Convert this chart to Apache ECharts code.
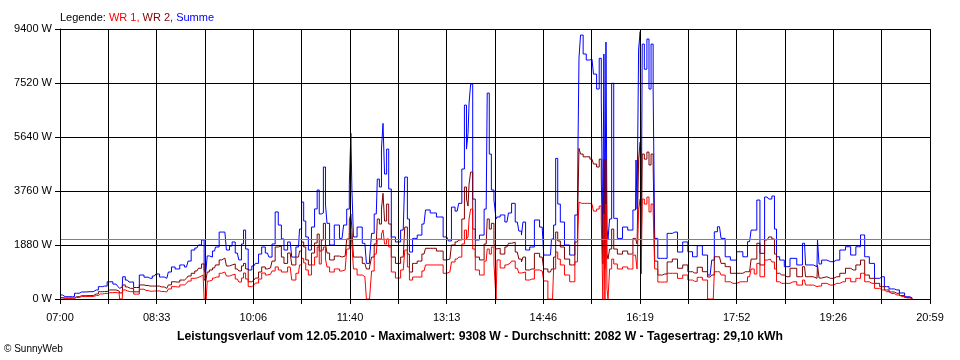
<!DOCTYPE html>
<html><head><meta charset="utf-8">
<script src="https://cdn.jsdelivr.net/npm/echarts@6/dist/echarts.min.js"></script>
<style>html,body{margin:0;padding:0;background:#fff}#c{width:960px;height:360px}</style>
</head><body><div id="c"></div>
<script>
// minutes since 07:00
const minutes = [
0,5,12,16,21,29,35,39,43,48,
54,57,58,60,61,65,68,74,79,83,
87,91,94,98,103,106,109,113,118,122,
125,128,132,135,138,140,141,143,145,149,
151,156,159,162,165,167,171,174,176,178,
180,183,187,190,193,196,200,203,206,209,
212,215,217,222,225,230,232,234,236,238,
241,244,247,249,251,253,255,257,258,262,
267,272,275,278,280,281,282,284,289,294,
297,300,301,305,307,309,311,312,314,316,
318,321,326,331,334,336,338,342,347,351,
354,360,366,373,376,379,383,386,389,391,
393,394,395,397,399,402,407,411,413,415,
417,420,421,422,427,431,434,437,441,444,
446,447,451,455,460,465,468,473,475,477,
479,481,484,489,494,499,500,501,503,506,
509,513,516,519,521,523,524,525,526,527,
528,529,531,533,535,540,545,550,555,556,
557,559,560,561,562,565,567,569,571,573,
574,579,583,588,593,598,603,608,612,617,
622,627,630,632,636,639,644,649,656,661,
665,668,671,673,677,682,685,688,690,692,
696,701,707,714,718,720,723,730,731,733,
736,743,749,755,760,765,770,774,778,783,
788,793,797,802,807,812,817,822];
const summe = [
140,80,80,200,245,255,315,430,450,600,
520,450,370,420,775,660,590,400,835,760,
720,800,870,765,720,940,1115,1045,1185,1115,
1320,1705,1775,1880,2055,1000,900,1500,1460,1670,
1810,2330,2330,1705,1845,1985,1600,1360,1915,2400,
1740,1010,1150,1240,1565,1810,1600,1460,1915,3030,
2575,2090,1705,1985,1460,1810,2435,3375,2715,2160,
1705,2505,3135,3795,2960,2995,4595,3305,2635,1880,
2575,2110,2575,3130,3970,5770,3830,2160,2505,1940,
1240,1390,2285,2960,4175,3900,5220,6115,4350,5220,
3830,2160,1985,2400,4245,2785,1635,2110,2225,2610,
3100,2995,2855,2160,2020,3200,3060,3330,4525,6750,
5220,5770,6820,7480,3480,2055,2225,3130,7170,5045,
3795,3445,2785,2855,2925,2680,2995,3330,2680,2365,
2225,2680,1705,1810,2750,2505,1530,1530,2090,2575,
4895,3305,2680,1880,1530,2925,5220,8390,9190,8530,
8320,8350,7830,7310,8380,6960,2090,8530,1415,8945,
2435,2090,2785,7510,2810,2110,2505,2400,3100,4840,
3130,8700,9308,2090,8875,8000,9050,7310,8875,7310,
2110,1415,1415,2285,2330,1635,1985,1645,1470,1855,
1530,835,1355,2340,2515,2110,1470,1355,1645,1470,
1995,2400,2400,3445,1590,3550,3480,3585,2435,1470,
1355,1125,1415,1185,1940,1185,1185,1125,2055,1220,
1355,1300,1355,1705,1820,1530,1820,2230,1470,1240,
720,775,430,350,315,210,80,35];
const wr1 = [
35,20,20,50,85,85,120,175,190,220,
225,210,0,0,315,280,255,170,340,295,
270,280,280,260,245,350,430,420,490,545,
625,720,730,775,835,0,0,625,660,730,
765,895,940,800,835,860,695,590,730,905,
695,430,487,557,695,905,835,860,975,1115,
1010,940,940,1115,660,895,1185,1415,1255,1010,
835,1185,1460,1810,1220,1705,1810,1390,1115,940,
1045,975,1010,1740,2285,2365,1915,1045,835,775,
0,0,975,1565,2090,2090,2260,2400,1915,2090,
1810,940,730,1010,1705,1115,660,765,765,975,
1185,1185,1185,895,940,1290,1390,1460,1915,2400,
2090,2160,2785,3130,1740,1010,835,1320,1740,1565,
1810,1220,0,1360,1080,1185,1240,1320,1070,905,
860,940,660,695,1010,975,627,0,0,1045,
1635,1390,1185,835,600,1290,2435,3375,3330,3330,
3330,3305,3060,3130,3235,2785,0,2960,0,3305,
350,0,1045,1390,1220,1045,1115,1045,1530,1530,
1045,3130,3480,870,3480,3305,3550,3030,3305,3130,
1045,590,590,895,895,720,835,660,615,755,
660,0,0,950,950,835,600,545,600,600,
775,1045,870,1240,775,1355,1390,1290,1045,600,
545,545,600,485,660,485,485,430,450,450,
545,485,545,600,720,600,720,895,600,545,
370,315,255,190,140,85,35,10];
const wr2 = [
50,35,35,80,115,120,175,255,260,315,
315,280,210,210,490,420,370,250,490,470,
450,450,450,420,370,490,600,590,660,720,
800,895,975,1070,1220,700,600,940,1010,1080,
1185,1360,1425,1150,1185,1220,1045,975,1150,1240,
1045,600,660,730,940,1115,1045,1080,1320,1810,
1845,1460,1240,1600,1185,1460,1670,1985,1810,1360,
1185,1600,1950,2260,1670,2055,2635,1915,1600,1360,
1495,1460,1495,2090,2750,2960,2435,1460,1460,1240,
1045,1115,1460,1915,2785,2610,3130,3680,2715,3305,
2610,1460,1240,1460,2505,1565,940,1240,1320,1565,
1765,1765,1670,1360,1390,1880,1985,2055,2785,3900,
3480,3235,4000,4420,2435,1460,1360,1915,2785,2435,
2635,1915,1740,1765,1565,1810,1940,1975,1635,1390,
1290,1460,1010,1045,1590,1460,1045,940,1045,1460,
2330,2020,1810,1390,1185,1985,3480,5245,5045,4950,
4950,4870,4700,4595,4870,4175,1220,4870,1045,4870,
1565,1390,1740,2435,1740,1565,1670,1565,2110,2090,
1915,4870,5465,1390,5045,4870,5115,4665,5045,4700,
1320,835,870,1290,1390,1070,1185,950,905,1105,
950,765,835,1470,1470,1240,1125,895,895,950,
950,1390,1390,1940,1185,2055,2160,2090,1565,895,
835,775,1070,775,1125,775,775,720,1185,730,
775,720,775,895,1070,1010,1185,1355,835,720,
545,430,315,245,200,120,50,17];
const xTickLabels = ['07:00','08:33','10:06','11:40','13:13','14:46','16:19','17:52','19:26','20:59'];
const yTickValues = [0,1880,3760,5640,7520,9400];
const average = 2082;
const dayMinutes = 839;
const xDivisions = 18;

const font = '"Liberation Sans", Arial, sans-serif';
const step = dayMinutes / xDivisions;
const chart = echarts.init(document.getElementById('c'), null, {renderer: 'canvas'});
const mk = arr => minutes.map((m, i) => [m, arr[i]]);

chart.setOption({
  animation: false,
  backgroundColor: '#fff',
  grid: {left: 60, right: 30, top: 29, bottom: 61, containLabel: false},
  xAxis: {
    type: 'value', min: 0, max: dayMinutes, interval: step, z: 5,
    axisLine: {show: true, lineStyle: {color: '#000', width: 1}},
    axisTick: {show: true, length: 5, lineStyle: {color: '#000'}},
    splitLine: {show: true, lineStyle: {color: '#000', width: 1}},
    axisLabel: {
      color: '#000', fontFamily: font, fontSize: 11, margin: 13,
      formatter: v => { const i = Math.round(v / step); return i % 2 === 0 ? (xTickLabels[i / 2] || '') : ''; }
    }
  },
  yAxis: {
    type: 'value', min: yTickValues[0], max: yTickValues[yTickValues.length - 1],
    interval: yTickValues[1] - yTickValues[0], z: 5,
    axisLine: {show: true, lineStyle: {color: '#000', width: 1}},
    axisTick: {show: true, length: 5, lineStyle: {color: '#000'}},
    splitLine: {show: true, lineStyle: {color: '#000', width: 1}},
    axisLabel: {color: '#000', fontFamily: font, fontSize: 11, margin: 8, formatter: v => String(Math.round(v)) + ' W'}
  },
  series: [
    {name: 'Summe', type: 'line', step: 'middle', data: mk(summe), symbol: 'none', lineStyle: {color: '#0000ff', width: 1}, itemStyle: {color: '#0000ff'}, z: 2},
    {name: 'WR 2', type: 'line', step: 'middle', data: mk(wr2), symbol: 'none', lineStyle: {color: '#800000', width: 1}, itemStyle: {color: '#800000'}, z: 3},
    {name: 'WR 1', type: 'line', step: 'middle', data: mk(wr1), symbol: 'none', lineStyle: {color: '#ff0000', width: 1}, itemStyle: {color: '#ff0000'}, z: 4,
      markLine: {silent: true, symbol: 'none', label: {show: false}, lineStyle: {color: '#808080', type: 'solid', width: 1},
        data: [{yAxis: average}]}}
  ],
  graphic: [
    {type: 'text', left: 60, top: 12, style: {
      text: '{k|Legende: }{a|WR 1, }{b|WR 2, }{s|Summe}',
      font: '11px ' + font,
      rich: {k: {fill: '#000', font: '11px ' + font}, a: {fill: '#ff0000', font: '11px ' + font},
             b: {fill: '#800000', font: '11px ' + font}, s: {fill: '#0000ff', font: '11px ' + font}}
    }},
    {type: 'text', x: 480, y: 337, style: {
      text: 'Leistungsverlauf vom 12.05.2010 - Maximalwert: 9308 W - Durchschnitt: 2082 W - Tagesertrag: 29,10 kWh',
      font: 'bold 12.2px ' + font, fill: '#000', align: 'center', verticalAlign: 'middle'
    }},
    {type: 'text', x: 4, y: 349, style: {
      text: '© SunnyWeb', font: '10px ' + font, fill: '#000', align: 'left', verticalAlign: 'middle'
    }}
  ]
});
</script></body></html>
